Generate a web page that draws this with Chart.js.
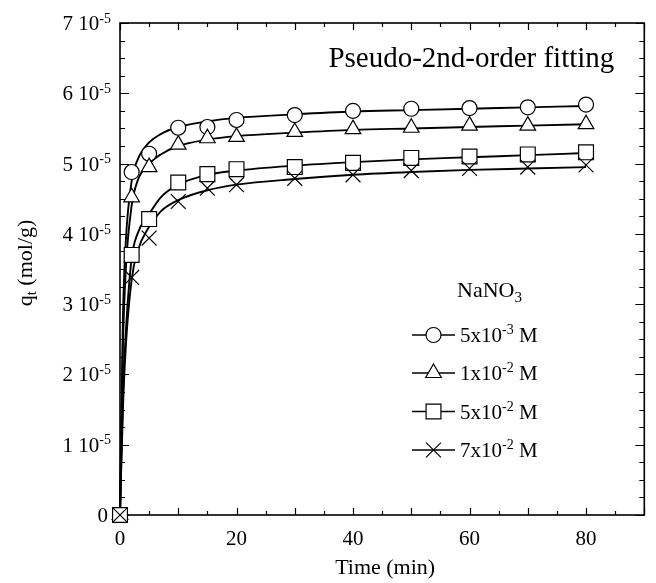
<!DOCTYPE html>
<html><head><meta charset="utf-8">
<script src="https://cdn.jsdelivr.net/npm/chart.js@4.4.0/dist/chart.umd.min.js"></script>
<style>html,body{margin:0;padding:0;background:#fff}#wrap{width:656px;height:583px;position:relative}</style>
</head><body><div id="wrap"><canvas id="c" width="656" height="583"></canvas></div>
<script>
// ---- data (q in mol/g) ----
const timePts = [0, 2, 5, 10, 15, 20, 30, 40, 50, 60, 70, 80];
const qA = [0, 4.88e-5, 5.14e-5, 5.51e-5, 5.52e-5, 5.62e-5, 5.69e-5, 5.75e-5, 5.78e-5, 5.79e-5, 5.80e-5, 5.84e-5]; // 5x10-3 M
const qB = [0, 4.52e-5, 4.95e-5, 5.27e-5, 5.36e-5, 5.38e-5, 5.45e-5, 5.49e-5, 5.51e-5, 5.54e-5, 5.54e-5, 5.56e-5]; // 1x10-2 M
const qC = [0, 3.70e-5, 4.21e-5, 4.73e-5, 4.85e-5, 4.92e-5, 4.95e-5, 5.01e-5, 5.08e-5, 5.10e-5, 5.13e-5, 5.16e-5]; // 5x10-2 M
const qD = [0, 3.38e-5, 3.94e-5, 4.46e-5, 4.65e-5, 4.70e-5, 4.79e-5, 4.84e-5, 4.90e-5, 4.93e-5, 4.95e-5, 4.98e-5]; // 7x10-2 M

// fitted curves
const fitTime = [0, 0.5, 1, 2, 3, 5, 7, 10, 15, 20, 30, 40, 50, 60, 70, 80];
const fitA = [0, 2.8e-5, 3.9e-5, 4.75e-5, 5.05e-5, 5.30e-5, 5.42e-5, 5.52e-5, 5.60e-5, 5.65e-5, 5.70e-5, 5.74e-5, 5.76e-5, 5.78e-5, 5.80e-5, 5.82e-5];
const fitB = [0, 2.4e-5, 3.5e-5, 4.40e-5, 4.75e-5, 5.00e-5, 5.13e-5, 5.25e-5, 5.34e-5, 5.39e-5, 5.44e-5, 5.48e-5, 5.50e-5, 5.52e-5, 5.54e-5, 5.56e-5];
const fitC = [0, 1.7e-5, 2.6e-5, 3.65e-5, 4.00e-5, 4.28e-5, 4.52e-5, 4.70e-5, 4.84e-5, 4.90e-5, 4.97e-5, 5.02e-5, 5.06e-5, 5.09e-5, 5.12e-5, 5.15e-5];
const fitD = [0, 1.5e-5, 2.4e-5, 3.35e-5, 3.75e-5, 4.10e-5, 4.32e-5, 4.48e-5, 4.62e-5, 4.70e-5, 4.78e-5, 4.84e-5, 4.88e-5, 4.91e-5, 4.93e-5, 4.95e-5];

const seriesBase = ['5x10', '1x10', '5x10', '7x10'];
const seriesExp = ['-3', '-2', '-2', '-2'];
const legendTitle = 'NaNO';
const legendSub = '3';
const xTickLabels = [0, 20, 40, 60, 80];
const yTickMantissa = [0, 1, 2, 3, 4, 5, 6, 7];
const yTickExp = '-5';
const annotation = 'Pseudo-2nd-order fitting';

const FONT = '"Liberation Serif", "Times New Roman", serif';
const styles = [
  {pointStyle: 'circle', radius: 7.5},
  {pointStyle: 'triangle', radius: 9},
  {pointStyle: 'rect', radius: 10.5},
  {pointStyle: 'crossRot', radius: 10.5}
];
const pts = [qA, qB, qC, qD];
const fits = [fitA, fitB, fitC, fitD];

const datasets = [];
fits.forEach((f, i) => {
  datasets.push({
    type: 'line', data: fitTime.map((t, k) => ({x: t, y: f[k]})),
    borderColor: '#000', borderWidth: 1.9, pointRadius: 0, fill: false,
    cubicInterpolationMode: 'monotone', order: 10, clip: false
  });
});
pts.forEach((p, i) => {
  datasets.push({
    type: 'scatter', data: timePts.map((t, k) => ({x: t, y: p[k]})),
    showLine: false, pointStyle: styles[i].pointStyle, pointRadius: styles[i].radius,
    pointBackgroundColor: '#fff', pointBorderColor: '#000', pointBorderWidth: 1.2,
    order: 4 - i, clip: false
  });
});

function drawMarker(ctx, st, x, y) {
  ctx.save();
  ctx.fillStyle = '#fff'; ctx.strokeStyle = '#000'; ctx.lineWidth = 1.2;
  Chart.helpers.drawPoint(ctx, {pointStyle: st.pointStyle, radius: st.radius, rotation: 0, borderWidth: 1.2}, x, y);
  ctx.restore();
}

const deco = {
  id: 'deco',
  beforeDatasetsDraw(chart) {
    const {ctx, chartArea: a, scales: {x, y}} = chart;
    ctx.save();
    ctx.strokeStyle = '#000';
    ctx.lineWidth = 1.6;
    ctx.strokeRect(a.left, a.top, a.right - a.left, a.bottom - a.top);
    ctx.lineWidth = 1.2;
    ctx.beginPath();
    for (let v = 0; v <= 90 + 1e-9; v += 5) {
      const px = Math.round(x.getPixelForValue(v)) + 0.5;
      const len = (v % 10 === 0) ? 7 : 4;
      ctx.moveTo(px, a.bottom); ctx.lineTo(px, a.bottom - len);
      ctx.moveTo(px, a.top); ctx.lineTo(px, a.top + len);
    }
    for (let k = 0; k <= 28; k++) {
      const v = k * 0.25e-5;
      const py = Math.round(y.getPixelForValue(v)) + 0.5;
      const len = (k % 4 === 0) ? 9 : 5;
      ctx.moveTo(a.left, py); ctx.lineTo(a.left + len, py);
      ctx.moveTo(a.right, py); ctx.lineTo(a.right - len, py);
    }
    ctx.stroke();
    ctx.restore();
  },
  afterDraw(chart) {
    const {ctx, chartArea: a, scales: {x, y}} = chart;
    ctx.save();
    ctx.fillStyle = '#000';
    // x tick labels
    ctx.font = '21px ' + FONT;
    ctx.textAlign = 'center'; ctx.textBaseline = 'alphabetic';
    xTickLabels.forEach(v => ctx.fillText(String(v), x.getPixelForValue(v), a.bottom + 30));
    // y tick labels
    yTickMantissa.forEach(m => {
      const py = y.getPixelForValue(m * 1e-5);
      const right = a.left - 9;
      ctx.textBaseline = 'middle';
      if (m === 0) {
        ctx.font = '21px ' + FONT; ctx.textAlign = 'right';
        ctx.fillText('0', right - 3, py + 1);
        return;
      }
      ctx.font = '14px ' + FONT; ctx.textAlign = 'right';
      ctx.fillText(yTickExp, right, py - 4);
      const ew = ctx.measureText(yTickExp).width;
      ctx.font = '21px ' + FONT;
      ctx.fillText(m + ' 10', right - ew, py + 1.5);
    });
    // x title
    ctx.font = '22px ' + FONT; ctx.textAlign = 'center'; ctx.textBaseline = 'alphabetic';
    ctx.fillText('Time (min)', (a.left + a.right) / 2 + 3, a.bottom + 59);
    // y title with subscript
    ctx.save();
    ctx.translate(26, (a.top + a.bottom) / 2 - 6);
    ctx.rotate(-Math.PI / 2);
    ctx.textBaseline = 'middle'; ctx.textAlign = 'left';
    ctx.font = '22px ' + FONT;
    const qW = ctx.measureText('q').width;
    ctx.font = '15px ' + FONT;
    const tW = ctx.measureText('t').width;
    ctx.font = '22px ' + FONT;
    const restW = ctx.measureText(' (mol/g)').width;
    let sx = -(qW + tW + restW) / 2;
    ctx.fillText('q', sx, 0); sx += qW;
    ctx.font = '15px ' + FONT; ctx.fillText('t', sx, 6); sx += tW;
    ctx.font = '22px ' + FONT; ctx.fillText(' (mol/g)', sx, 0);
    ctx.restore();
    // annotation
    ctx.font = '29px ' + FONT; ctx.textAlign = 'right'; ctx.textBaseline = 'alphabetic';
    ctx.fillText(annotation, a.right - 30, a.top + 44);
    // legend
    ctx.font = '22px ' + FONT; ctx.textAlign = 'left'; ctx.textBaseline = 'alphabetic';
    const nw = ctx.measureText(legendTitle).width;
    ctx.fillText(legendTitle, 457, 297);
    ctx.font = '15px ' + FONT; ctx.fillText(legendSub, 457 + nw, 302);
    const rows = [335, 373, 411.5, 450];
    rows.forEach((ry, i) => {
      ctx.save();
      ctx.strokeStyle = '#000'; ctx.lineWidth = 1.5;
      ctx.beginPath(); ctx.moveTo(412, ry); ctx.lineTo(455, ry); ctx.stroke();
      ctx.restore();
      drawMarker(ctx, styles[i], 433.5, ry);
      ctx.fillStyle = '#000';
      ctx.font = '21px ' + FONT; ctx.textAlign = 'left'; ctx.textBaseline = 'alphabetic';
      const bw = ctx.measureText(seriesBase[i]).width;
      ctx.fillText(seriesBase[i], 460, ry + 7);
      ctx.font = '14px ' + FONT;
      const ew = ctx.measureText(seriesExp[i]).width;
      ctx.fillText(seriesExp[i], 460 + bw, ry - 1);
      ctx.font = '21px ' + FONT;
      ctx.fillText(' M', 460 + bw + ew, ry + 7);
    });
    ctx.restore();
  }
};

new Chart(document.getElementById('c'), {
  data: {datasets},
  options: {
    responsive: false, animation: false, devicePixelRatio: 1,
    layout: {padding: {left: 120, right: 9, top: 23, bottom: 68}},
    plugins: {legend: {display: false}, tooltip: {enabled: false}},
    scales: {
      x: {type: 'linear', min: 0, max: 90, display: false},
      y: {type: 'linear', min: 0, max: 7e-5, display: false}
    }
  },
  plugins: [deco]
});
</script></body></html>
